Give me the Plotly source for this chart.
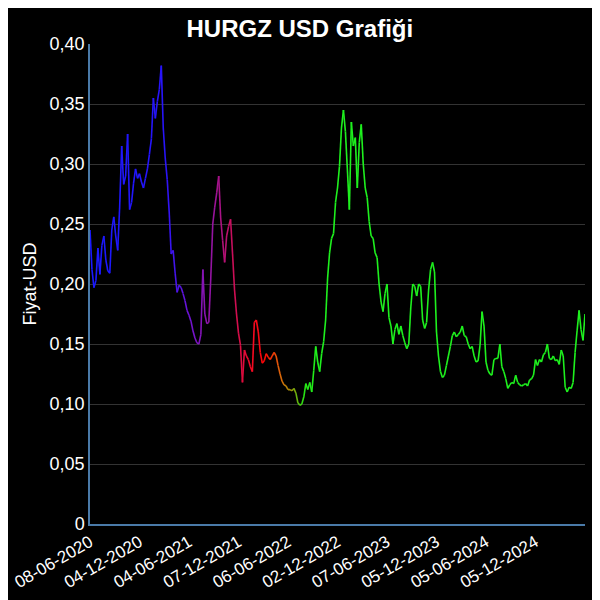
import plotly.graph_objects as go

# weekly-ish closing prices (USD)
prices = [
    0.245, 0.212, 0.197, 0.203, 0.230, 0.208, 0.232, 0.240, 0.220, 0.211,
    0.209, 0.245, 0.256, 0.240, 0.228, 0.265, 0.315, 0.283, 0.290, 0.325,
    0.262, 0.268, 0.284, 0.296, 0.288, 0.292, 0.285, 0.280, 0.288, 0.296,
    0.308, 0.321, 0.355, 0.338, 0.352, 0.362, 0.382, 0.330, 0.305, 0.287,
    0.260, 0.225, 0.228, 0.209, 0.193, 0.199, 0.197, 0.192, 0.186, 0.178,
    0.174, 0.169, 0.161, 0.155, 0.151, 0.150, 0.158, 0.212, 0.175, 0.167,
    0.168, 0.205, 0.250, 0.264, 0.276, 0.290, 0.255, 0.236, 0.218, 0.240,
    0.248, 0.254, 0.225, 0.195, 0.175, 0.159, 0.149, 0.118, 0.145, 0.140,
    0.137, 0.131, 0.127, 0.168, 0.170, 0.160, 0.143, 0.134, 0.136, 0.142,
    0.139, 0.137, 0.140, 0.143, 0.140, 0.132, 0.125, 0.119, 0.116, 0.115,
    0.112, 0.112, 0.111, 0.113, 0.109, 0.101, 0.099, 0.100, 0.106, 0.117,
    0.112, 0.118, 0.110, 0.128, 0.148, 0.135, 0.127, 0.142, 0.152, 0.170,
    0.205, 0.226, 0.238, 0.242, 0.268, 0.280, 0.298, 0.330, 0.345, 0.327,
    0.295, 0.262, 0.335, 0.315, 0.322, 0.280, 0.318, 0.333, 0.300, 0.280,
    0.272, 0.252, 0.240, 0.238, 0.226, 0.222, 0.200, 0.185, 0.177, 0.192,
    0.200, 0.172, 0.165, 0.150, 0.162, 0.167, 0.158, 0.165, 0.157, 0.151,
    0.146, 0.150, 0.180, 0.200, 0.198, 0.190, 0.200, 0.198, 0.170, 0.163,
    0.168, 0.195, 0.212, 0.218, 0.210, 0.160, 0.140, 0.127, 0.122, 0.124,
    0.132, 0.140, 0.148, 0.157, 0.160, 0.156, 0.158, 0.160, 0.165, 0.157,
    0.156, 0.150, 0.146, 0.148, 0.140, 0.135, 0.136, 0.149, 0.177, 0.165,
    0.135, 0.128, 0.125, 0.124, 0.137, 0.138, 0.138, 0.150, 0.131, 0.127,
    0.121, 0.113, 0.116, 0.118, 0.117, 0.124, 0.118, 0.116, 0.115, 0.116,
    0.117, 0.115, 0.120, 0.121, 0.124, 0.137, 0.132, 0.137, 0.135, 0.141,
    0.143, 0.150, 0.138, 0.137, 0.140, 0.136, 0.137, 0.133, 0.145, 0.140,
    0.114, 0.110, 0.114, 0.113, 0.118, 0.143, 0.161, 0.178, 0.162, 0.153,
    0.175,
]
x_idx = list(range(len(prices)))

tick_pos = [0, 25, 50, 75, 100, 125, 150, 175, 200, 225]
tick_labels = ["08-06-2020", "04-12-2020", "04-06-2021", "07-12-2021", "06-06-2022",
               "02-12-2022", "07-06-2023", "05-12-2023", "05-06-2024", "05-12-2024"]

y_ticks = [0, 0.05, 0.10, 0.15, 0.20, 0.25, 0.30, 0.35, 0.40]
y_labels = ["0", "0,05", "0,10", "0,15", "0,20", "0,25", "0,30", "0,35", "0,40"]

# colour ramp along time: blue -> purple -> red -> orange -> green
ramp = [
    (0, (25, 25, 255)), (38, (40, 20, 250)), (50, (110, 20, 210)),
    (62, (150, 20, 160)), (72, (200, 15, 90)), (82, (245, 10, 35)),
    (88, (255, 5, 5)), (96, (220, 100, 10)), (102, (150, 150, 10)),
    (108, (40, 225, 20)), (115, (30, 240, 30)), (10000, (30, 240, 30)),
]


def color_at(i):
    for (a, ca), (b, cb) in zip(ramp[:-1], ramp[1:]):
        if a <= i <= b:
            t = (i - a) / (b - a)
            c = [round(ca[k] + (cb[k] - ca[k]) * t) for k in range(3)]
            return f"rgb({c[0]},{c[1]},{c[2]})"
    return "rgb(30,240,30)"


fig = go.Figure()
for i in range(len(prices) - 1):
    fig.add_trace(go.Scatter(
        x=x_idx[i:i + 2],
        y=prices[i:i + 2],
        mode="lines",
        line=dict(color=color_at(i + 0.5), width=1.6),
        showlegend=False,
        hoverinfo="skip",
    ))

# page has an 8px body margin, so the figure is 592x592
fig.update_layout(
    width=592,
    height=592,
    paper_bgcolor="black",
    plot_bgcolor="black",
    font=dict(family="Liberation Sans, Arial, sans-serif", color="white", size=18),
    title=dict(text="<b>HURGZ USD Grafiği</b>", x=0.493, xanchor="center", y=0.98,
               yanchor="top", font=dict(size=24, color="white")),
    margin=dict(l=82, r=15, t=36, b=76),
    xaxis=dict(
        range=[0, len(prices) - 1],
        tickmode="array",
        tickvals=tick_pos,
        ticktext=tick_labels,
        tickangle=-30,
        tickfont=dict(size=17, color="white"),
        showgrid=False,
        zeroline=False,
        showline=True,
        linecolor="#4a7aa8",
        linewidth=1.5,
        automargin=False,
    ),
    yaxis=dict(
        range=[0, 0.40],
        tickmode="array",
        tickvals=y_ticks,
        ticktext=y_labels,
        tickfont=dict(size=18, color="white"),
        title=dict(text="Fiyat-USD", font=dict(size=18, color="white"), standoff=8),
        showgrid=True,
        gridcolor="#333333",
        gridwidth=1,
        zeroline=False,
        showline=True,
        linecolor="#4a7aa8",
        linewidth=1.5,
        automargin=False,
    ),
)

fig.write_html("out.html")
